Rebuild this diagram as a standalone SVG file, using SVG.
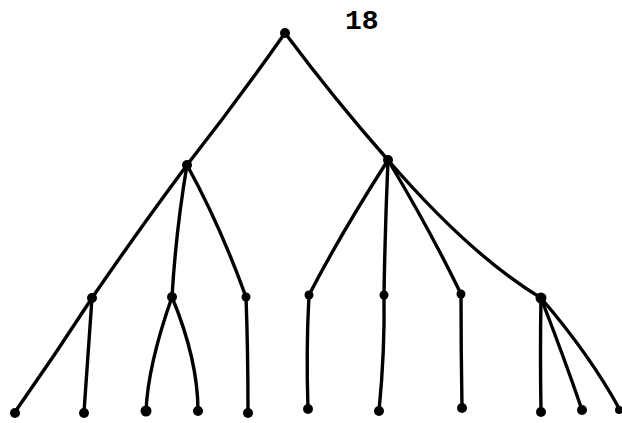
<svg xmlns="http://www.w3.org/2000/svg" width="622" height="423" viewBox="0 0 622 423">
<style>
.e{fill:none;stroke:#000;stroke-width:3.4;stroke-linecap:round}
.n{fill:#000}
.t{font-family:"Liberation Mono",monospace;font-weight:bold;font-size:28px;fill:#000}
</style>
<rect width="622" height="423" fill="#fff"/>
<text class="t" x="345" y="29">18</text>
<g id="edges">
<path class="e" d="M285,33 Q238,100 187,165"/>
<path class="e" d="M285,33 Q335,100 388,160"/>
<path class="e" d="M187,165 Q135,235 92,298"/>
<path class="e" d="M187,165 Q176,230 172,297"/>
<path class="e" d="M187,165 Q220,225 246,297"/>
<path class="e" d="M388,160 Q340,235 309,295"/>
<path class="e" d="M388,160 Q385,230 384,295"/>
<path class="e" d="M388,160 Q430,230 461,294"/>
<path class="e" d="M388,160 Q470,255 541,298"/>
<path class="e" d="M92,298 Q55,355 15,412"/>
<path class="e" d="M92,298 Q88,355 84,412"/>
<path class="e" d="M172,297 Q148,365 146,411"/>
<path class="e" d="M172,297 Q198,360 198,411"/>
<path class="e" d="M246,297 Q248,350 248,412"/>
<path class="e" d="M309,295 Q306,350 308,409"/>
<path class="e" d="M384,295 Q385,350 379,411"/>
<path class="e" d="M461,294 Q461,350 462,408"/>
<path class="e" d="M541,298 Q540,350 541,412"/>
<path class="e" d="M541,298 Q565,360 582,410"/>
<path class="e" d="M541,298 Q590,355 620,410"/>
</g>
<g id="n0"><circle class="n" cx="285" cy="33" r="5"/></g>
<g id="n1"><circle class="n" cx="187" cy="165" r="5"/></g>
<g id="n2"><circle class="n" cx="388" cy="160" r="5"/></g>
<g id="n3"><circle class="n" cx="92" cy="298" r="5"/></g>
<g id="n4"><circle class="n" cx="172" cy="297" r="5"/></g>
<g id="n5"><circle class="n" cx="246" cy="297" r="4.5"/></g>
<g id="n6"><circle class="n" cx="309" cy="295" r="4.5"/></g>
<g id="n7"><circle class="n" cx="384" cy="295" r="4.5"/></g>
<g id="n8"><circle class="n" cx="461" cy="294" r="4.5"/></g>
<g id="n9"><circle class="n" cx="541" cy="298" r="5.5"/></g>
<g id="l1"><circle class="n" cx="15" cy="413" r="5"/></g>
<g id="l2"><circle class="n" cx="84" cy="413" r="5"/></g>
<g id="l3"><circle class="n" cx="146" cy="411" r="5.5"/></g>
<g id="l4"><circle class="n" cx="198" cy="411" r="5"/></g>
<g id="l5"><circle class="n" cx="248" cy="413" r="5"/></g>
<g id="l6"><circle class="n" cx="308" cy="409" r="5"/></g>
<g id="l7"><circle class="n" cx="379" cy="411" r="5"/></g>
<g id="l8"><circle class="n" cx="462" cy="408" r="5"/></g>
<g id="l9"><circle class="n" cx="541" cy="412" r="5"/></g>
<g id="l10"><circle class="n" cx="582" cy="410" r="5"/></g>
<g id="l11"><circle class="n" cx="619" cy="410" r="4"/></g>
</svg>
